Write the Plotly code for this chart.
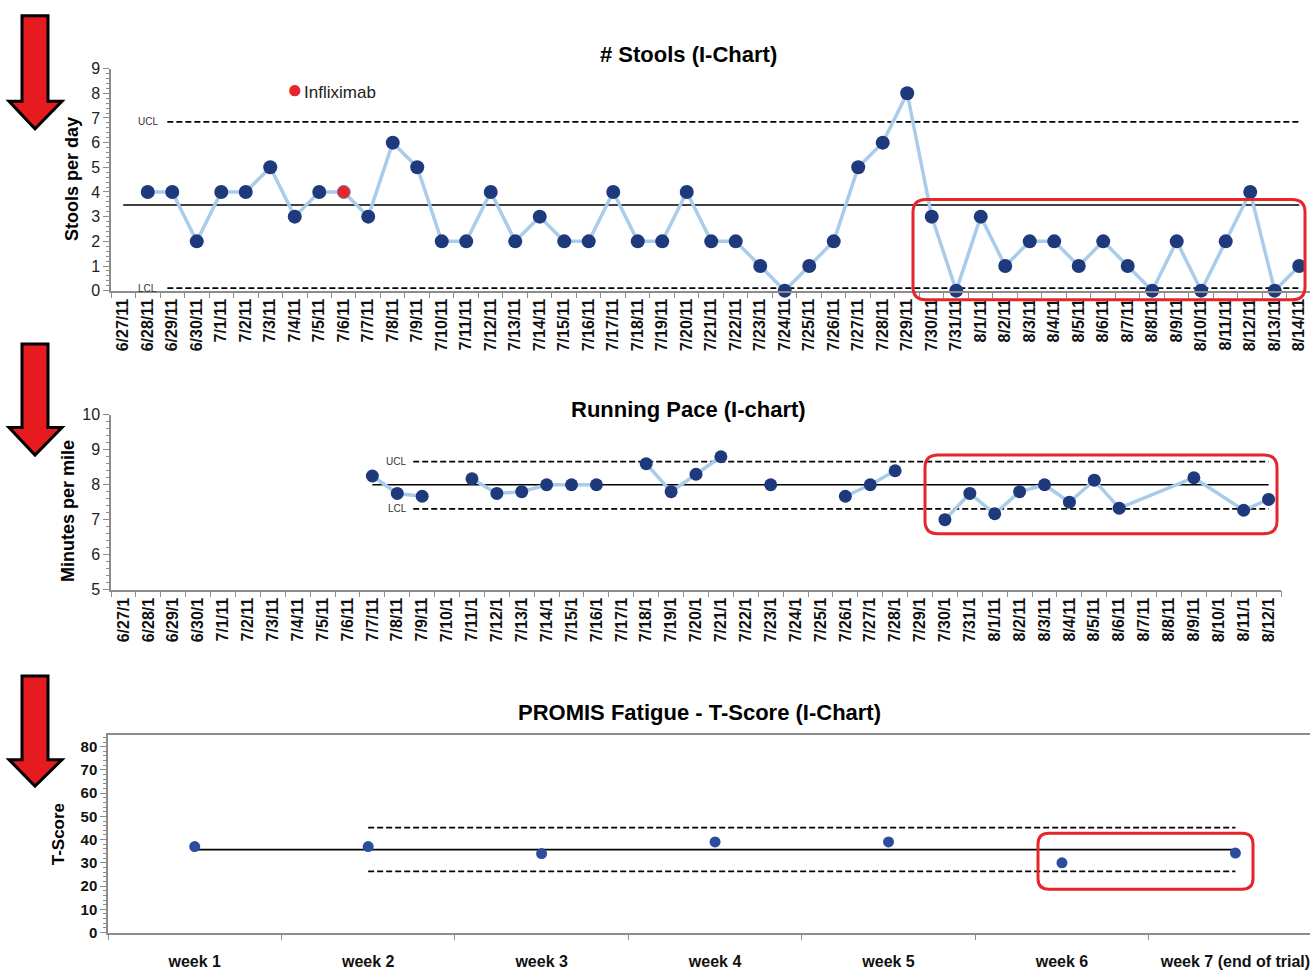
import plotly.graph_objects as go

W, H = 1310, 973


def px(x):
    return x / W


def py(y):
    return 1 - y / H


# ---------------- data ----------------
stool_dates = ["6/27/11", "6/28/11", "6/29/11", "6/30/11", "7/1/11", "7/2/11", "7/3/11", "7/4/11",
               "7/5/11", "7/6/11", "7/7/11", "7/8/11", "7/9/11", "7/10/11", "7/11/11", "7/12/11",
               "7/13/11", "7/14/11", "7/15/11", "7/16/11", "7/17/11", "7/18/11", "7/19/11", "7/20/11",
               "7/21/11", "7/22/11", "7/23/11", "7/24/11", "7/25/11", "7/26/11", "7/27/11", "7/28/11",
               "7/29/11", "7/30/11", "7/31/11", "8/1/11", "8/2/11", "8/3/11", "8/4/11", "8/5/11",
               "8/6/11", "8/7/11", "8/8/11", "8/9/11", "8/10/11", "8/11/11", "8/12/11", "8/13/11",
               "8/14/11"]
stools = [None, 4, 4, 2, 4, 4, 5, 3, 4, 4, 3, 6, 5, 2, 2, 4, 2, 3, 2, 2, 4, 2, 2, 4, 2, 2, 1, 0, 1, 2,
          5, 6, 8, 3, 0, 3, 1, 2, 2, 1, 2, 1, 0, 2, 0, 2, 4, 0, 1]
infliximab_dates = ["7/6/11"]
stool_mean, stool_ucl, stool_lcl = 3.47, 6.84, 0.1

pace_dates = ["6/27/1", "6/28/1", "6/29/1", "6/30/1", "7/1/11", "7/2/11", "7/3/11", "7/4/11",
              "7/5/11", "7/6/11", "7/7/11", "7/8/11", "7/9/11", "7/10/1", "7/11/1", "7/12/1",
              "7/13/1", "7/14/1", "7/15/1", "7/16/1", "7/17/1", "7/18/1", "7/19/1", "7/20/1",
              "7/21/1", "7/22/1", "7/23/1", "7/24/1", "7/25/1", "7/26/1", "7/27/1", "7/28/1",
              "7/29/1", "7/30/1", "7/31/1", "8/1/11", "8/2/11", "8/3/11", "8/4/11", "8/5/11",
              "8/6/11", "8/7/11", "8/8/11", "8/9/11", "8/10/1", "8/11/1", "8/12/1"]
pace = [None, None, None, None, None, None, None, None, None, None,
        8.25, 7.75, 7.67, None, 8.17, 7.75, 7.8, 8.0, 8.0, 8.0, None, 8.6, 7.8, 8.3, 8.8, None,
        8.0, None, None, 7.67, 8.0, 8.4, None, 7.0, 7.75, 7.17, 7.8, 8.0, 7.5, 8.13, 7.33,
        None, None, 8.2, None, 7.27, 7.58]
pace_connect_from = "8/6/11"   # from here on the line bridges missing days
pace_mean, pace_ucl, pace_lcl = 8.0, 8.66, 7.31

weeks = ["week 1", "week 2", "week 3", "week 4", "week 5", "week 6", "week 7 (end of trial)"]
tscore = [37, 37, 34, 39, 39, 30, 34.2]
t_mean, t_ucl, t_lcl = 35.7, 45.2, 26.3

# ---------------- styles ----------------
FONT = "Liberation Sans, Arial, sans-serif"
NAVY = "#1F3A7C"
LBLUE = "#A8CCEA"
RED = "#E5262A"
AXC = "#8C8C8C"

fig = go.Figure()

# ---- top chart: stools ----
fig.add_trace(go.Scatter(x=stool_dates, y=stools, mode="lines", connectgaps=False,
                         line=dict(color=LBLUE, width=3.5), xaxis="x", yaxis="y",
                         showlegend=False, hoverinfo="skip", cliponaxis=False))
reg_y = [None if d in infliximab_dates else v for d, v in zip(stool_dates, stools)]
fig.add_trace(go.Scatter(x=stool_dates, y=reg_y, mode="markers",
                         marker=dict(color=NAVY, size=14), xaxis="x", yaxis="y",
                         showlegend=False, cliponaxis=False))
inf_y = [stools[stool_dates.index(d)] for d in infliximab_dates]
fig.add_trace(go.Scatter(x=infliximab_dates, y=inf_y, mode="markers", name="Infliximab",
                         marker=dict(color=RED, size=13, line=dict(color="#6D7FB5", width=1)),
                         xaxis="x", yaxis="y", showlegend=False, cliponaxis=False))

# ---- middle chart: pace ----
k = pace_dates.index(pace_connect_from)
seg1_x, seg1_y = pace_dates[:k + 1], pace[:k + 1]
seg2 = [(d, v) for d, v in zip(pace_dates[k:], pace[k:]) if v is not None]
fig.add_trace(go.Scatter(x=seg1_x, y=seg1_y, mode="lines", connectgaps=False,
                         line=dict(color=LBLUE, width=3.5), xaxis="x2", yaxis="y2",
                         showlegend=False, hoverinfo="skip"))
fig.add_trace(go.Scatter(x=[d for d, _ in seg2], y=[v for _, v in seg2], mode="lines",
                         line=dict(color=LBLUE, width=3.5), xaxis="x2", yaxis="y2",
                         showlegend=False, hoverinfo="skip"))
fig.add_trace(go.Scatter(x=pace_dates, y=pace, mode="markers",
                         marker=dict(color=NAVY, size=13), xaxis="x2", yaxis="y2",
                         showlegend=False, cliponaxis=False))

# ---- bottom chart: T-score ----
fig.add_trace(go.Scatter(x=weeks, y=tscore, mode="markers",
                         marker=dict(color="#2C4D9C", size=11), xaxis="x3", yaxis="y3",
                         showlegend=False, cliponaxis=False))

# ---- control lines (shapes on data axes) ----
shapes = []


def hline(xr, yr, x0, x1, y, dash=None):
    shapes.append(dict(type="line", xref=xr, yref=yr, x0=x0, x1=x1, y0=y, y1=y,
                       layer="below",
                       line=dict(color="black", width=1.6 if dash is None else 1.8,
                                 dash=dash if dash else "solid")))


DASH = "6px,3px"
ns = len(stool_dates) - 1
hline("x", "y", 0, ns, stool_mean)
hline("x", "y", 1.8, ns, stool_ucl, DASH)
hline("x", "y", 1.8, ns, stool_lcl, DASH)

p0 = pace_dates.index("7/7/11")
np_ = len(pace_dates) - 1
hline("x2", "y2", p0, np_, pace_mean)
hline("x2", "y2", p0 + 1.64, np_, pace_ucl, DASH)
hline("x2", "y2", p0 + 1.64, np_, pace_lcl, DASH)

nw = len(weeks) - 1
hline("x3", "y3", 0, nw, t_mean)
hline("x3", "y3", 1, nw, t_ucl, DASH)
hline("x3", "y3", 1, nw, t_lcl, DASH)


# ---- red rounded boxes ----
def rbox(x0, y0, x1, y1, r=13):
    pts = (f"M {px(x0 + r)},{py(y0)} L {px(x1 - r)},{py(y0)} Q {px(x1)},{py(y0)} {px(x1)},{py(y0 + r)} "
           f"L {px(x1)},{py(y1 - r)} Q {px(x1)},{py(y1)} {px(x1 - r)},{py(y1)} "
           f"L {px(x0 + r)},{py(y1)} Q {px(x0)},{py(y1)} {px(x0)},{py(y1 - r)} "
           f"L {px(x0)},{py(y0 + r)} Q {px(x0)},{py(y0)} {px(x0 + r)},{py(y0)} Z")
    shapes.append(dict(type="path", xref="paper", yref="paper", path=pts, layer="above",
                       line=dict(color=RED, width=3)))


rbox(913, 195, 1305, 297)
rbox(925, 455, 1277, 535)
rbox(1038, 840, 1253, 897, r=11)


# ---- red arrows ----
def arrow(top, hs, tip):
    pts = [(22, top), (48, top), (48, hs), (62, hs), (35, tip), (9, hs), (22, hs)]
    path = "M " + " L ".join(f"{px(x)},{py(y)}" for x, y in pts) + " Z"
    shapes.append(dict(type="path", xref="paper", yref="paper", path=path, layer="above",
                       fillcolor="#E51B1F", line=dict(color="black", width=3)))


arrow(8, 95, 123)
arrow(342, 427, 455)
arrow(680, 765, 792)

# ---- annotations ----
ann = []


def text(x, y, s, size, bold=False, angle=0, xanchor="center", color="black", yref="paper", yv=None):
    ann.append(dict(x=px(x), y=(py(y) if yref == "paper" else yv), xref="paper", yref=yref,
                    text=s, showarrow=False, textangle=angle, xanchor=xanchor, yanchor="middle",
                    font=dict(family=FONT, size=size, color=color, weight="bold" if bold else "normal")))


text(688, 47, "# Stools (I-Chart)", 22, bold=True)
text(688, 409, "Running Pace (I-chart)", 22, bold=True)
text(699, 717, "PROMIS Fatigue - T-Score (I-Chart)", 22, bold=True)
text(72, 174, "Stools per day", 18, bold=True, angle=-90)
text(68, 512, "Minutes per mile", 18, bold=True, angle=-90)
text(58, 841, "T-Score", 17, bold=True, angle=-90)
text(136, 0, "UCL", 10, xanchor="left", color="#333", yref="y", yv=stool_ucl)
text(136, 0, "LCL", 10, xanchor="left", color="#333", yref="y", yv=stool_lcl)
text(384, 0, "UCL", 10, xanchor="left", color="#333", yref="y2", yv=pace_ucl)
text(386, 0, "LCL", 10, xanchor="left", color="#333", yref="y2", yv=pace_lcl)
# legend entry for the infliximab marker
text(285, 82, f'<span style="color:{RED};font-size:26px">●</span><span style="font-size:5px"> </span>Infliximab', 17,
     xanchor="left", color="#222")

# ---- axes ----
tickfont_x = dict(family=FONT, size=16, color="#111", weight="bold")
common_x = dict(type="category", showline=True, linecolor=AXC, linewidth=1.5, ticks="outside",
                tickson="boundaries", ticklen=6, tickcolor=AXC, showgrid=False, zeroline=False,
                fixedrange=True)
common_y = dict(showline=True, linecolor=AXC, linewidth=1.5, ticks="outside", ticklen=6,
                tickcolor=AXC, showgrid=False, zeroline=False, fixedrange=True)

fig.update_layout(
    width=W, height=H, autosize=False,
    margin=dict(l=0, r=0, t=0, b=0),
    paper_bgcolor="white", plot_bgcolor="white",
    shapes=shapes, annotations=ann,
    showlegend=False,
    xaxis=dict(**common_x, domain=[px(111), 1], anchor="y", categoryorder="array",
               categoryarray=stool_dates, range=[-0.5, 48.44], tickangle=-90, tickfont=tickfont_x),
    yaxis=dict(**common_y, domain=[py(287.7), py(61.7)], anchor="x", range=[0, 9], dtick=1,
               tickfont=dict(family=FONT, size=16, color="#222"),
               minor=dict(dtick=0.2, ticks="outside", ticklen=3, tickcolor=AXC)),
    xaxis2=dict(**common_x, domain=[px(111), px(1281)], anchor="y2", categoryorder="array",
                categoryarray=pace_dates, range=[-0.5, 46.5], tickangle=-90, tickfont=tickfont_x),
    yaxis2=dict(**common_y, domain=[py(592), py(414)], anchor="x2", range=[5, 10], dtick=1,
                tickfont=dict(family=FONT, size=16, color="#222"),
                minor=dict(dtick=0.2, ticks="outside", ticklen=3, tickcolor=AXC)),
    xaxis3=dict(**common_x, domain=[px(108), 1], anchor="y3", categoryorder="array",
                categoryarray=weeks, range=[-0.5, 6.43], tickangle=0, mirror=True,
                ticklabelstandoff=13,
                tickfont=dict(family=FONT, size=16, color="#111", weight="bold")),
    yaxis3=dict(**common_y, domain=[py(941), py(740)], anchor="x3", range=[0, 85], dtick=10,
                tickfont=dict(family=FONT, size=15, color="#111", weight="bold"),
                minor=dict(dtick=2, ticks="outside", ticklen=3, tickcolor=AXC)),
)

fig.write_html("out.html", config={"displayModeBar": False},
               post_script="document.body.style.margin='0';document.body.style.overflow='hidden';")
